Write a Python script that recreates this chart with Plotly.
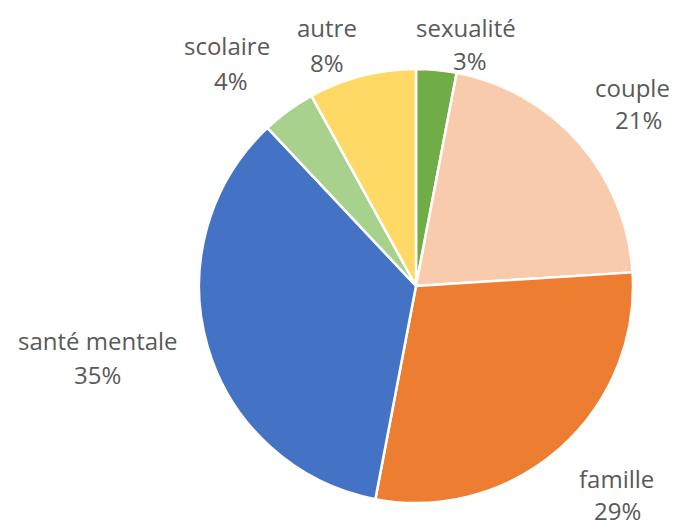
import plotly.graph_objects as go

categories = ["sexualité", "couple", "famille", "santé mentale", "scolaire", "autre"]
values = [3, 21, 29, 35, 4, 8]
colors = ["#70AD47", "#F8CBAD", "#ED7D31", "#4472C4", "#A9D18E", "#FFD966"]

# label placement (pixel centres of the two text lines: name, percent)
label_pos = {
    "sexualité": ((466, 28), (470, 61)),
    "couple": ((632, 87), (638, 120)),
    "famille": ((616, 478), (617, 510)),
    "santé mentale": ((98, 340), (98, 374)),
    "scolaire": ((227, 46), (231, 80)),
    "autre": ((327, 27), (327, 62)),
}

W, H = 680, 529
cx, cy, R = 416, 286, 217

fig = go.Figure(go.Pie(
    labels=categories,
    values=values,
    sort=False,
    direction="clockwise",
    rotation=0,
    marker=dict(colors=colors, line=dict(color="white", width=2.5)),
    textinfo="none",
    hoverinfo="label+percent",
    domain=dict(x=[(cx - R) / W, (cx + R) / W], y=[(H - cy - R) / H, (H - cy + R) / H]),
    showlegend=False,
))

total = sum(values)
annotations = []
for cat, v in zip(categories, values):
    (x1, y1), (x2, y2) = label_pos[cat]
    pct = f"{round(100 * v / total)}%"
    for txt, (x, y) in ((cat, (x1, y1)), (pct, (x2, y2))):
        annotations.append(dict(
            text=txt, x=x / W, y=1 - y / H, xref="paper", yref="paper",
            xanchor="center", yanchor="middle", showarrow=False,
            font=dict(family="Open Sans", size=24, color="#595959"),
        ))

fig.update_layout(
    width=W, height=H,
    margin=dict(l=0, r=0, t=0, b=0),
    paper_bgcolor="white",
    plot_bgcolor="white",
    annotations=annotations,
)

fig.write_html(
    "out.html",
    config={"displayModeBar": False},
    post_script="document.body.style.margin='0';document.body.style.overflow='hidden';",
)
